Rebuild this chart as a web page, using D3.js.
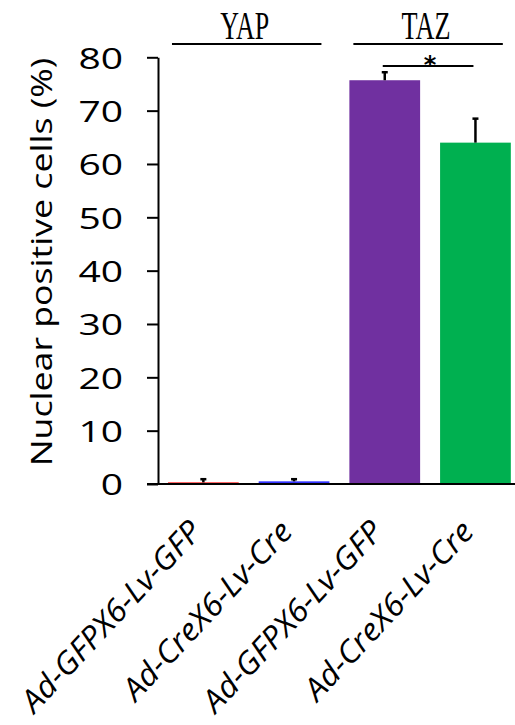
<!DOCTYPE html>
<html>
<head>
<meta charset="utf-8">
<script src="https://cdn.jsdelivr.net/npm/d3@7"></script>
<style>
  body { margin: 0; background: #fff; }
  svg { display: block; }
</style>
</head>
<body>
<div class="chart"></div>
<script>
// bar labels, means and (upper) error bars
const categories = ['Ad-GFPX6-Lv-GFP', 'Ad-CreX6-Lv-Cre', 'Ad-GFPX6-Lv-GFP', 'Ad-CreX6-Lv-Cre'];
const values = [0.3, 0.5, 75.7, 64.0];
const errors = [0.6, 0.4, 1.5, 4.5];
const yTicks = [0, 10, 20, 30, 40, 50, 60, 70, 80];
const groupNames = ['YAP', 'TAZ'];
const groupMembers = [[0, 1], [2, 3]];
const sigPairs = [[2, 3]];
const barColors = ['#ff0000', '#3333ff', '#7030a0', '#00b050'];

const width = 515, height = 725;
const plotLeft = 158, plotTop = 57.3, plotBottom = 484;

const svg = d3.select('.chart').append('svg')
    .attr('width', width)
    .attr('height', height);

const x = d3.scaleBand()
    .domain(d3.range(categories.length))
    .range([plotLeft, 520.8])
    .paddingInner(0.22)
    .paddingOuter(0.11);

const y = d3.scaleLinear()
    .domain([0, 80])
    .range([plotBottom, plotTop]);

// stretch a text node horizontally (the figure's fonts are wide)
function stretch(sel, k) {
    sel.each(function() {
        const len = this.getComputedTextLength();
        d3.select(this).attr('textLength', len * k).attr('lengthAdjust', 'spacingAndGlyphs');
    });
}

// bars
svg.selectAll('rect.bar')
    .data(values)
    .join('rect')
    .attr('class', 'bar')
    .attr('x', (d, i) => x(i))
    .attr('width', x.bandwidth())
    .attr('y', d => y(d))
    .attr('height', d => y(0) - y(d))
    .attr('fill', (d, i) => barColors[i]);

// error bars (upper only)
const eb = svg.selectAll('g.err')
    .data(values)
    .join('g')
    .attr('class', 'err')
    .attr('stroke', '#000')
    .attr('stroke-width', 2.5);
eb.append('line')
    .attr('x1', (d, i) => x(i) + x.bandwidth() / 2)
    .attr('x2', (d, i) => x(i) + x.bandwidth() / 2)
    .attr('y1', d => y(d))
    .attr('y2', (d, i) => y(d + errors[i]));
eb.append('line')
    .attr('x1', (d, i) => x(i) + x.bandwidth() / 2 - 3)
    .attr('x2', (d, i) => x(i) + x.bandwidth() / 2 + 3)
    .attr('y1', (d, i) => y(d + errors[i]))
    .attr('y2', (d, i) => y(d + errors[i]));

// y axis
const yAxis = svg.append('g')
    .attr('transform', `translate(${plotLeft},0)`)
    .call(d3.axisLeft(y).tickValues(yTicks).tickSize(11).tickSizeOuter(0).tickPadding(24));
yAxis.selectAll('path, line').attr('stroke', '#000').attr('stroke-width', 2);
yAxis.selectAll('text')
    .attr('font-family', 'Open Sans')
    .attr('font-size', 30)
    .attr('fill', '#000')
    .attr('dy', '0.36em')
    .call(stretch, 1.3);

// x axis baseline
svg.append('line')
    .attr('x1', plotLeft - 11).attr('x2', width)
    .attr('y1', y(0)).attr('y2', y(0))
    .attr('stroke', '#000').attr('stroke-width', 2);

// category labels
svg.selectAll('text.cat')
    .data(categories)
    .join('text')
    .attr('class', 'cat')
    .attr('transform', (d, i) => `translate(${x(i) + x.bandwidth() / 2},533) rotate(-47)`)
    .attr('text-anchor', 'end')
    .attr('font-family', 'Open Sans')
    .attr('font-style', 'italic')
    .attr('font-size', 31)
    .text(d => d)
    .call(stretch, 1.06);

// y title
svg.append('text')
    .attr('transform', 'translate(52,262) rotate(-90)')
    .attr('text-anchor', 'middle')
    .attr('font-family', 'Open Sans')
    .attr('font-size', 29)
    .text('Nuclear positive cells (%)')
    .call(stretch, 1.23);

// group brackets
groupNames.forEach((name, gi) => {
    const m = groupMembers[gi];
    const x1 = x(m[0]) + 4, x2 = x(m[m.length - 1]) + x.bandwidth() - 8;
    svg.append('line')
        .attr('x1', x1).attr('x2', x2)
        .attr('y1', 44).attr('y2', 44)
        .attr('stroke', '#000').attr('stroke-width', 2);
    svg.append('text')
        .attr('x', (x1 + x2) / 2 - 2)
        .attr('y', 39)
        .attr('text-anchor', 'middle')
        .attr('font-family', 'Liberation Serif')
        .attr('font-size', 39)
        .attr('textLength', 49)
        .attr('lengthAdjust', 'spacingAndGlyphs')
        .text(name);
});

// significance
sigPairs.forEach(p => {
    const x1 = x(p[0]) + x.bandwidth() / 2 - 2, x2 = x(p[1]) + x.bandwidth() / 2 - 2;
    svg.append('line')
        .attr('x1', x1).attr('x2', x2)
        .attr('y1', 66).attr('y2', 66)
        .attr('stroke', '#000').attr('stroke-width', 2);
    svg.append('text')
        .attr('x', (x1 + x2) / 2 + 2)
        .attr('y', 73)
        .attr('text-anchor', 'middle')
        .attr('font-family', 'DejaVu Sans')
        .attr('font-weight', 'bold')
        .attr('font-size', 24)
        .text('*');
});
</script>
</body>
</html>
